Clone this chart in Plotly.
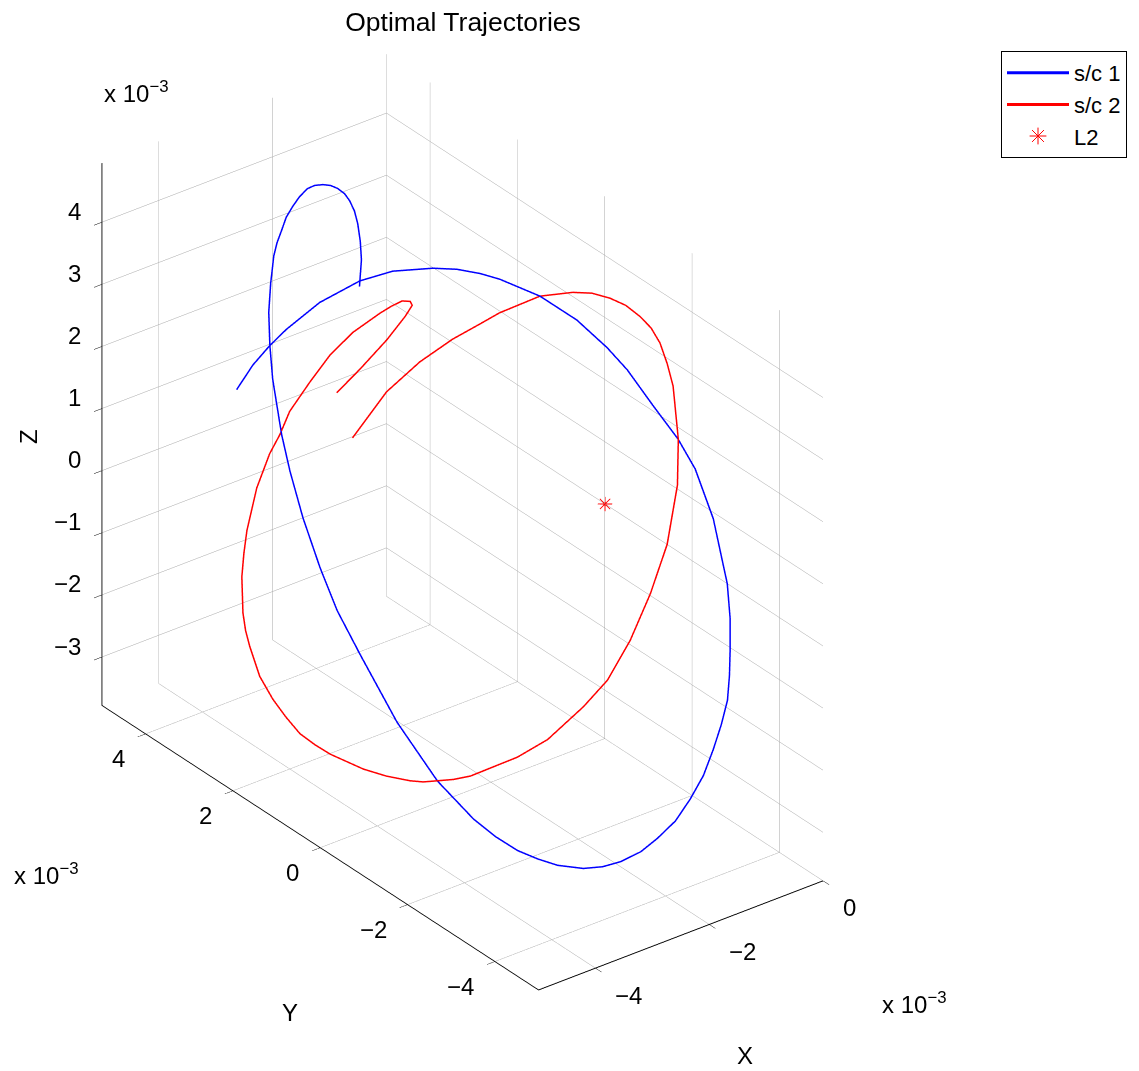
import plotly.graph_objects as go

# Trajectories relative to L2, values in units of 1e-3
sc1_x = [-3.4, -3.3, -3.2, -3.1, -2.9, -2.7, -2.5, -2.3, -2.2, -2.1, -2.0, -1.8, -1.65, -1.5,
         -1.4, -1.3, -1.2, -1.15, -1.1, -1.1, -1.1, -1.12, -1.15, -1.2, -1.25, -1.32, -1.4, -1.52,
         -1.65, -1.82, -2.0, -2.2, -2.4, -2.6, -2.8, -3.0, -3.08, -3.15, -3.2, -3.25, -3.3, -3.35,
         -3.4, -3.4, -3.4, -3.4, -3.4, -3.4, -3.35, -3.3, -3.25, -3.2, -3.1, -3.05, -3.0, -2.95,
         -2.9, -2.85, -2.8, -2.75, -2.7, -2.65, -2.6, -2.57, -2.55, -2.52, -2.5, -2.47, -2.45, -2.4]
sc1_y = [4.00, 3.76, 3.50, 3.25, 2.75, 2.09, 1.60, 0.94, 0.52, 0.12, -0.20, -0.86, -1.51, -2.01,
         -2.34, -2.80, -3.24, -3.57, -3.92, -4.08, -4.24, -4.33, -4.37, -4.42, -4.44, -4.39, -4.31,
         -4.24, -4.11, -3.99, -3.81, -3.69, -3.49, -3.34, -3.16, -2.83, -2.48, -2.11, -1.67, -1.23,
         -0.47, 0.39, 1.17, 1.70, 2.09, 2.48, 2.78, 2.97, 3.24, 3.37, 3.46, 3.48, 3.54, 3.53, 3.49,
         3.45, 3.37, 3.28, 3.16, 3.06, 2.94, 2.83, 2.73, 2.61, 2.52, 2.45, 2.40, 2.38, 2.38, 2.49]
sc1_z = [1.20, 1.67, 2.07, 2.41, 3.00, 3.58, 3.89, 4.17, 4.31, 4.39, 4.41, 4.37, 4.23, 3.96,
         3.72, 3.32, 2.95, 2.60, 1.94, 1.49, 1.04, 0.54, 0.05, -0.32, -0.69, -1.08, -1.49, -1.90,
         -2.29, -2.64, -2.94, -3.14, -3.32, -3.40, -3.44, -3.47, -3.50, -3.51, -3.47, -3.37, -3.09,
         -2.52, -1.77, -1.30, -0.79, -0.17, 0.45, 0.95, 1.70, 2.17, 2.64, 3.09, 3.46, 3.66, 3.86,
         4.07, 4.26, 4.44, 4.61, 4.69, 4.74, 4.76, 4.74, 4.70, 4.62, 4.48, 4.29, 4.00, 3.70, 3.20]

sc2_x = [-3.0, -3.0, -3.0, -3.0, -3.0, -3.05, -3.1, -3.12, -3.15, -3.2, -3.25, -3.3, -3.35, -3.4,
         -3.45, -3.5, -3.55, -3.58, -3.6, -3.65, -3.68, -3.7, -3.7, -3.7, -3.7, -3.7, -3.68, -3.65,
         -3.6, -3.55, -3.5, -3.45, -3.4, -3.33, -3.25, -3.0, -2.8, -2.5, -2.3, -2.1, -1.9, -1.75,
         -1.6, -1.5, -1.4, -1.35, -1.3, -1.28, -1.25, -1.25, -1.25, -1.27, -1.3, -1.4, -1.55,
         -1.65, -1.8, -2.0, -2.2, -2.4]
sc2_y = [2.23, 1.70, 1.08, 0.66, 0.50, 0.48, 0.60, 0.81, 1.04, 1.60, 2.06, 2.45, 2.85, 3.01,
         3.18, 3.41, 3.57, 3.60, 3.62, 3.53, 3.43, 3.31, 3.08, 2.78, 2.48, 2.16, 1.84, 1.53, 0.84,
         0.38, -0.11, -0.34, -0.60, -0.87, -1.16, -1.91, -2.34, -2.77, -3.06, -3.32, -3.52, -3.71,
         -3.75, -3.64, -3.39, -3.19, -2.96, -2.73, -2.44, -2.11, -1.75, -1.36, -0.96, -0.34, 0.39,
         0.72, 1.14, 1.63, 2.13, 2.65]
sc2_z = [1.82, 2.44, 3.20, 3.77, 4.02, 4.11, 4.08, 3.91, 3.70, 3.15, 2.59, 2.00, 1.36, 0.93,
         0.56, -0.08, -0.82, -1.19, -1.57, -2.09, -2.32, -2.51, -2.89, -3.12, -3.27, -3.39, -3.43,
         -3.45, -3.39, -3.31, -3.18, -3.11, -2.99, -2.87, -2.71, -2.15, -1.74, -1.12, -0.63, 0.06,
         0.83, 1.66, 2.58, 3.23, 3.94, 4.19, 4.40, 4.53, 4.57, 4.60, 4.55, 4.46, 4.30, 3.99, 3.44,
         3.14, 2.76, 2.24, 1.60, 0.69]

l2_x = [0.0]
l2_y = [0.0]
l2_z = [0.0]

x_ticks = [-4, -2, 0]
y_ticks = [-4, -2, 0, 2, 4]
z_ticks = [-3, -2, -1, 0, 1, 2, 3, 4]
x_range = [-5.0, 0.0]
y_range = [-5.0, 5.0]
z_range = [-3.78, 4.95]

assert len(sc1_x) == len(sc1_y) == len(sc1_z)
assert len(sc2_x) == len(sc2_y) == len(sc2_z)

FONT = "Liberation Sans, Arial, Helvetica, sans-serif"
W, H = 1139, 1071


def label(v):
    return str(v).replace("-", "\u2212")


def axis(ticks, rng):
    return dict(
        range=rng,
        autorange=False,
        tickmode="array",
        tickvals=ticks,
        showticklabels=False,
        showbackground=False,
        showgrid=True,
        gridcolor="#a6a6a6",
        gridwidth=1,
        showline=True,
        linecolor="black",
        linewidth=2,
        ticks="outside",
        tickcolor="black",
        ticklen=10,
        zeroline=False,
        showspikes=False,
        title=dict(text=""),
    )


fig = go.Figure()
fig.add_trace(go.Scatter3d(x=sc1_x, y=sc1_y, z=sc1_z, mode="lines", name="s/c 1",
                           line=dict(color="#0000ff", width=3)))
fig.add_trace(go.Scatter3d(x=sc2_x, y=sc2_y, z=sc2_z, mode="lines", name="s/c 2",
                           line=dict(color="#ff0000", width=3)))
fig.add_trace(go.Scatter3d(x=l2_x, y=l2_y, z=l2_z, mode="text", text=["\u2733"],
                           textposition="middle center",
                           textfont=dict(color="#ff0000", size=20, family="DejaVu Sans"),
                           showlegend=False, legendgroup="l2", hoverinfo="skip"))
# legend entry for the L2 marker (asterisk glyph)
fig.add_trace(go.Scatter(x=[None], y=[None], mode="markers", name="L2", legendgroup="l2",
                         marker=dict(symbol="asterisk-open", size=14, color="#ff0000",
                                     line=dict(color="#ff0000", width=1))))

# tick labels placed at the tick positions on each box edge
tick_font = dict(family=FONT, size=24, color="black")
scene_ann = []
for t in z_ticks:
    scene_ann.append(dict(x=x_range[0], y=y_range[1], z=t, text=label(t), showarrow=False,
                          xanchor="right", yanchor="middle", xshift=-19, yshift=11,
                          font=tick_font))
for t in y_ticks:
    scene_ann.append(dict(x=x_range[0], y=t, z=z_range[0], text=label(t), showarrow=False,
                          xanchor="right", yanchor="middle", xshift=-19, yshift=-25,
                          font=tick_font))
for t in x_ticks:
    scene_ann.append(dict(x=t, y=y_range[0], z=z_range[0], text=label(t), showarrow=False,
                          xanchor="left", yanchor="middle", xshift=18, yshift=-27,
                          font=tick_font))

# view direction: azimuth -37.5 deg, elevation 30 deg, equal data scaling on all axes
eye = dict(x=-0.5272 * 2, y=-0.6871 * 2, z=0.5 * 2)
box_scale = 1.374
aspect = dict(x=box_scale * (x_range[1] - x_range[0]) / 10.0,
              y=box_scale * (y_range[1] - y_range[0]) / 10.0,
              z=box_scale * (z_range[1] - z_range[0]) / 10.0)

fig.update_layout(
    width=W, height=H, autosize=False,
    margin=dict(l=0, r=0, t=0, b=0),
    paper_bgcolor="white", plot_bgcolor="rgba(0,0,0,0)",
    font=dict(family=FONT, size=24, color="black"),
    title=dict(text="Optimal Trajectories", x=463 / W, xanchor="center",
               y=1 - 22 / H, yanchor="middle", font=dict(size=26.5, family=FONT, color="black")),
    xaxis=dict(visible=False), yaxis=dict(visible=False),
    scene=dict(
        domain=dict(x=[0.0, 0.812], y=[0.0252, 1.0]),
        xaxis=axis(x_ticks, x_range),
        yaxis=axis(y_ticks, y_range),
        zaxis=axis(z_ticks, z_range),
        aspectmode="manual",
        aspectratio=aspect,
        camera=dict(eye=eye, up=dict(x=0, y=0, z=1), center=dict(x=0, y=0, z=0),
                    projection=dict(type="orthographic")),
        annotations=scene_ann,
    ),
    legend=dict(x=1001 / W, y=1 - 51 / H, xanchor="left", yanchor="top",
                bordercolor="black", borderwidth=1, bgcolor="white", itemwidth=62,
                font=dict(size=22, family=FONT, color="black"), tracegroupgap=0),
    annotations=[
        dict(text="x 10<sup>\u22123</sup>", x=102 / W, y=1 - 92 / H, xref="paper", yref="paper",
             xanchor="left", yanchor="middle", showarrow=False, font=dict(size=24)),
        dict(text="x 10<sup>\u22123</sup>", x=12 / W, y=1 - 874 / H, xref="paper", yref="paper",
             xanchor="left", yanchor="middle", showarrow=False, font=dict(size=24)),
        dict(text="x 10<sup>\u22123</sup>", x=880 / W, y=1 - 1003 / H, xref="paper", yref="paper",
             xanchor="left", yanchor="middle", showarrow=False, font=dict(size=24)),
        dict(text="Z", x=28 / W, y=1 - 437 / H, xref="paper", yref="paper", textangle=-90,
             xanchor="center", yanchor="middle", showarrow=False, font=dict(size=24)),
        dict(text="Y", x=290 / W, y=1 - 1012 / H, xref="paper", yref="paper",
             xanchor="center", yanchor="middle", showarrow=False, font=dict(size=24)),
        dict(text="X", x=745 / W, y=1 - 1055 / H, xref="paper", yref="paper",
             xanchor="center", yanchor="middle", showarrow=False, font=dict(size=24)),
    ],
)

fig.write_html("out.html")
